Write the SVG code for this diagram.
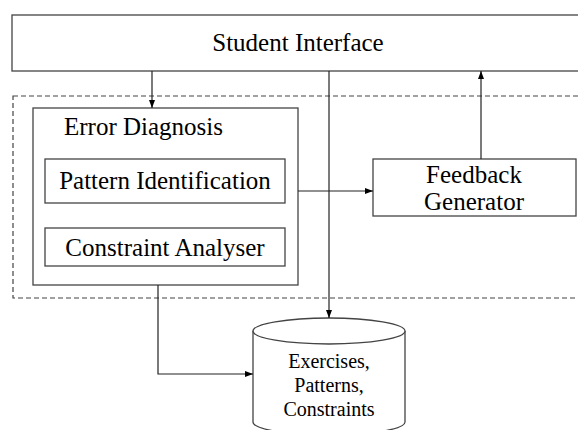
<svg xmlns="http://www.w3.org/2000/svg" width="578" height="430" viewBox="0 0 578 430">
<style>
.box{fill:#fff;stroke:#444;stroke-width:1.3}
.ln{fill:none;stroke:#222;stroke-width:1.2}
.dash{fill:none;stroke:#444;stroke-width:1.2;stroke-dasharray:5 3}
text{font-family:'Liberation Serif','Times New Roman',serif;fill:#000}
.t{font-size:25px}
.s{font-size:20px}
.c{text-anchor:middle}
</style>
<defs>
<marker id="ah" markerWidth="8" markerHeight="6" refX="8" refY="3" orient="auto" markerUnits="userSpaceOnUse">
<path d="M0,0 L8,3 L0,6 Z" fill="#000"/>
</marker>
</defs>
<rect width="578" height="430" fill="#fff"/>
<g id="student-interface">
<rect class="box" x="12" y="15" width="580" height="56"/>
<text class="t c" x="298" y="51">Student Interface</text>
</g>
<rect id="boundary" class="dash" x="13" y="96" width="580" height="202"/>
<g id="error-diagnosis">
<rect class="box" x="33" y="108" width="265" height="177"/>
<text class="t" x="64" y="135">Error Diagnosis</text>
</g>
<g id="pattern-identification">
<rect class="box" x="45" y="159" width="240" height="44"/>
<text class="t c" x="165" y="189">Pattern Identification</text>
</g>
<g id="constraint-analyser">
<rect class="box" x="45" y="228" width="240" height="38"/>
<text class="t c" x="165" y="256">Constraint Analyser</text>
</g>
<g id="feedback-generator">
<rect class="box" x="373" y="159" width="203" height="57"/>
<text class="t c" x="474" y="183">Feedback</text>
<text class="t c" x="474" y="210">Generator</text>
</g>
<g id="database">
<path class="box" d="M253,331 L253,422 A76,13 0 0 0 405,422 L405,331"/>
<ellipse class="box" cx="329" cy="331" rx="76" ry="13"/>
<text class="s c" x="329" y="368">Exercises,</text>
<text class="s c" x="329" y="392">Patterns,</text>
<text class="s c" x="329" y="416">Constraints</text>
</g>
<g id="connectors">
<line class="ln" x1="152" y1="71" x2="152" y2="108" marker-end="url(#ah)"/>
<line class="ln" x1="329" y1="71" x2="329" y2="318" marker-end="url(#ah)"/>
<line class="ln" x1="481" y1="159" x2="481" y2="71" marker-end="url(#ah)"/>
<line class="ln" x1="298" y1="191" x2="373" y2="191" marker-end="url(#ah)"/>
<polyline class="ln" points="158,285 158,374 253,374" marker-end="url(#ah)"/>
</g>
</svg>
